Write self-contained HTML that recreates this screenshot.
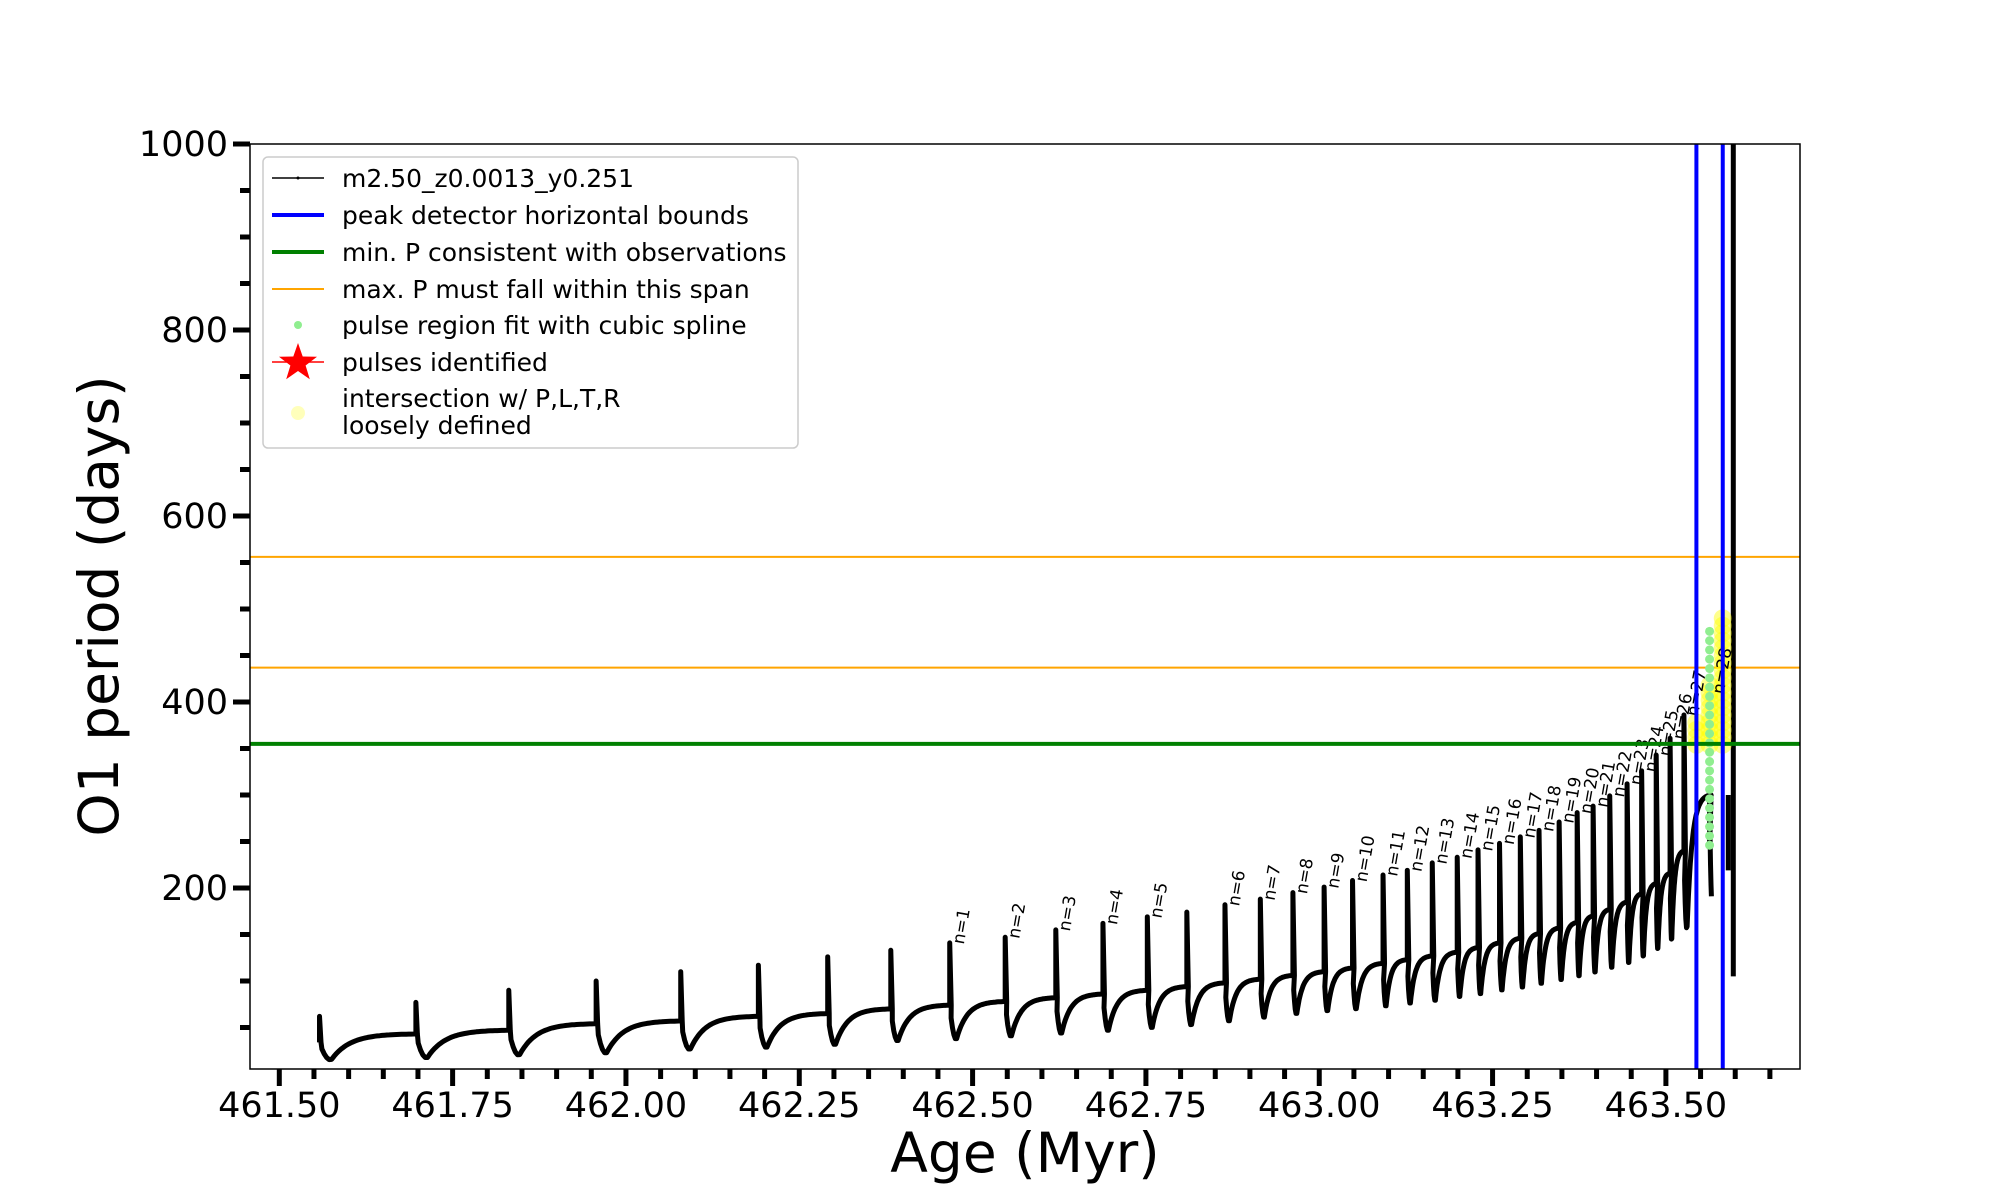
<!DOCTYPE html>
<html><head><meta charset="utf-8"><style>
html,body{margin:0;padding:0;background:#fff;}
svg{display:block;font-family:"DejaVu Sans","Liberation Sans",sans-serif;}
</style></head><body>
<svg id="chart" width="2000" height="1200" viewBox="0 0 2000 1200" xmlns="http://www.w3.org/2000/svg">
<rect x="250" y="144" width="1550" height="925" fill="#fff"/>
<g id="marks"></g>
<g id="axes"></g>
<g id="legend"></g>
</svg>
<script>
// ---- data ----
const pulseAges = [461.558,461.697,461.831,461.957,462.079,462.191,462.291,462.382,462.467,462.547,462.620,462.688,462.752,462.809,462.864,462.915,462.962,463.007,463.048,463.092,463.127,463.163,463.199,463.229,463.260,463.290,463.317,463.346,463.372,463.395,463.419,463.444,463.465,463.486,463.506,463.526,463.563];
const pulsePeaks = [62,77,90,100,110,117,126,133,141,147,155,162,169,174,182,188,195,201,208,214,219,227,233,241,248,255,262,271,281,288,299,312,326,343,361,386,250];
const labelValues = [62,77,90,100,110,117,126,133,141,147,155,162,169,174,182,188,195,201,208,214,219,227,233,241,248,255,262,271,281,288,299,312,326,343,361,386,410];
const preBase = [34,43,47,54,57,62,65,70,74,78,82,86,90,94,98,102,106,110,114,119,123,127,131,136,141,146,151,157,163,170,177,185,194,205,216,240,300];
const dips = [15,17,20,22,26,28,31,35,37,40,43,46,49,52,56,60,64,67,69,72,75,78,82,85,89,92,96,100,104,108,113,118,125,133,143,155,188];
const pulseLabels = ["","","","","","","","","n=1","n=2","n=3","n=4","n=5","","n=6","n=7","n=8","n=9","n=10","n=11","n=12","n=13","n=14","n=15","n=16","n=17","n=18","n=19","n=20","n=21","n=22","n=23","n=24","n=25","n=26","n=27","n=28"];
const endAge = 463.590;
const blueBounds = [463.544, 463.582];
const greenMin = [355];
const orangeSpan = [437, 556];
const splineAge = [463.563];
const splineLow = [246];
const splineHigh = [476];
const yellowAges = [463.544, 463.563, 463.582];
const yellowLow = [354, 354, 354];
const yellowHigh = [380, 420, 497];
const xMajorTicks = [461.50,461.75,462.00,462.25,462.50,462.75,463.00,463.25,463.50];
const yMajorTicks = [200,400,600,800,1000];

// ---- axes functions ----
const X0=250,X1=1800,Y0=144,Y1=1069;
function xs(a){return 279.3+(a-461.5)*693.3;}
function ys(v){return 1074-v*0.93;}
const NS="http://www.w3.org/2000/svg";
function mk(tag,attrs,parent){const e=document.createElementNS(NS,tag);for(const k in attrs)e.setAttribute(k,attrs[k]);parent.appendChild(e);return e;}
const marks=document.getElementById('marks');
const axes=document.getElementById('axes');
const legend=document.getElementById('legend');

orangeSpan.forEach((v,i)=>{
  const l=mk('line',{x1:X0,x2:X1,y1:ys(v),y2:ys(v),stroke:'#ffa500','stroke-width':2},marks);
  
  
});

// black series
let d='';
for(let i=0;i<pulseAges.length;i++){
  const a=pulseAges[i], b=(i+1<pulseAges.length)?pulseAges[i+1]:endAge;
  const x=xs(a);
  d+=(i===0?'M':'L')+x+','+ys(preBase[i])+' L'+x+','+ys(pulsePeaks[i])+' L'+(x+1.5)+','+ys(preBase[i])+' ';
  const nb=preBase[i+1];
  const N=40;
  for(let k=1;k<=N;k++){
    const t=k/N;let v;const t0=0.12;
    if(t<t0){const u=t/t0;v=preBase[i]+(dips[i]-preBase[i])*(1-(1-u)*(1-u));}
    else{const u=(t-t0)/(1-t0);v=dips[i]+(nb-dips[i])*(1-Math.exp(-u/0.22))/(1-Math.exp(-1/0.22));}
    d+='L'+(xs(a+(b-a)*t)).toFixed(1)+','+ys(v).toFixed(1)+' ';
  }
}
const series=mk('path',{d:d,fill:'none',stroke:'#000','stroke-width':5,'stroke-linejoin':'round'},marks);


const drop=mk('line',{x1:xs(endAge),x2:xs(endAge),y1:ys(300),y2:ys(219),stroke:'#000','stroke-width':5},marks);


const tail=mk('line',{x1:xs(endAge)+5,x2:xs(endAge)+5,y1:Y0,y2:ys(105),stroke:'#000','stroke-width':5},marks);



// yellow blobs
yellowAges.forEach((a,i)=>{
  for(let v=yellowLow[i];v<=yellowHigh[i];v+=8){
    const c=mk('circle',{cx:xs(a),cy:ys(v),r:9,fill:'#ffff00','fill-opacity':0.45},marks);
    
    
  }
});
// green spline
splineAge.forEach((a,i)=>{
  for(let v=splineLow[i];v<=splineHigh[i];v+=10){
    const c=mk('circle',{cx:xs(a),cy:ys(v),r:4.5,fill:'#90ee90'},marks);
    
    
  }
});
// pulse labels
pulseLabels.forEach((s,i)=>{
  if(!s)return;
  const x=xs(pulseAges[i])+14,y=ys(labelValues[i])+2;
  const t=mk('text',{x:x,y:y,'font-size':17,transform:'rotate(-80 '+x+' '+y+')',fill:'#000'},marks);
  t.textContent=s;
  
  
});
greenMin.forEach(v=>{
  const l=mk('line',{x1:X0,x2:X1,y1:ys(v),y2:ys(v),stroke:'#008000','stroke-width':4},marks);
  
  
});
blueBounds.forEach(a=>{
  const l=mk('line',{x1:xs(a),x2:xs(a),y1:Y0,y2:Y1,stroke:'#0000ff','stroke-width':4},marks);
  
  
});

// frame
const fr=mk('rect',{x:X0,y:Y0,width:X1-X0,height:Y1-Y0,fill:'none',stroke:'#000','stroke-width':1.5},axes);


for(let k=0;k<=45;k++){
  const a=461.5+k*0.05; if(xs(a)>X1)break;
  const major=(k%5===0);
  const tk=mk('line',{x1:xs(a),x2:xs(a),y1:Y1,y2:Y1+(major?17:10),stroke:'#000','stroke-width':5},axes);
  
  
}
xMajorTicks.forEach(a=>{
  const t=mk('text',{x:xs(a),y:1117,'font-size':35,'text-anchor':'middle'},axes);
  t.textContent=a.toFixed(2);
  
  
});
for(let v=50;v<=1000;v+=50){
  const major=(v%200===0);
  const tk=mk('line',{x1:X0,x2:X0-(major?17:10),y1:ys(v),y2:ys(v),stroke:'#000','stroke-width':5},axes);
  
  
}
yMajorTicks.forEach(v=>{
  const t=mk('text',{x:228,y:ys(v)+12,'font-size':35,'text-anchor':'end'},axes);
  t.textContent=String(v);
  
  
});
const xl=mk('text',{x:1025,y:1172,'font-size':55,'text-anchor':'middle'},axes);
xl.textContent='Age (Myr)';


const yl=mk('text',{x:118,y:606,'font-size':55,'text-anchor':'middle',transform:'rotate(-90 118 606)'},axes);
yl.textContent='O1 period (days)';



// legend
const lb=mk('rect',{x:263,y:157,width:535,height:291,rx:5,fill:'#fff','fill-opacity':0.85,stroke:'#cccccc','stroke-width':1.5},legend);


const entries=[
 ['m2.50_z0.0013_y0.251',178,'black'],
 ['peak detector horizontal bounds',215,'blue'],
 ['min. P consistent with observations',252,'green'],
 ['max. P must fall within this span',289,'orange'],
 ['pulse region fit with cubic spline',325,'dot'],
 ['pulses identified',362,'star'],
 ['intersection w/ P,L,T,R',398,'yellow']
];
entries.forEach(e=>{
  const g=mk('g',{},legend);
  
  
  const y=e[1];
  if(e[2]==='black'){mk('line',{x1:272,x2:324,y1:y,y2:y,stroke:'#000','stroke-width':1.5},g);mk('circle',{cx:298,cy:y,r:1.5,fill:'#000'},g);}
  if(e[2]==='blue')mk('line',{x1:272,x2:324,y1:y,y2:y,stroke:'#0000ff','stroke-width':4},g);
  if(e[2]==='green')mk('line',{x1:272,x2:324,y1:y,y2:y,stroke:'#008000','stroke-width':4},g);
  if(e[2]==='orange')mk('line',{x1:272,x2:324,y1:y,y2:y,stroke:'#ffa500','stroke-width':2},g);
  if(e[2]==='dot')mk('circle',{cx:298,cy:y,r:4,fill:'#90ee90'},g);
  if(e[2]==='star'){mk('line',{x1:272,x2:324,y1:y,y2:y,stroke:'#ff0000','stroke-width':1.5},g);
    let p='';for(let k=0;k<10;k++){const r=(k%2)?8:20,an=-Math.PI/2+k*Math.PI/5;p+=(298+r*Math.cos(an)).toFixed(1)+','+(y+1+r*Math.sin(an)).toFixed(1)+' ';}
    mk('polygon',{points:p,fill:'#ff0000'},g);}
  if(e[2]==='yellow')mk('circle',{cx:298,cy:413,r:7,fill:'#ffffaa','fill-opacity':0.8},g);
  const t=mk('text',{x:342,y:y+9,'font-size':25},g);
  t.textContent=e[0];
  
  
});
const t2=mk('text',{x:342,y:434,'font-size':25},legend);
t2.textContent='loosely defined';


</script>
</body></html>
